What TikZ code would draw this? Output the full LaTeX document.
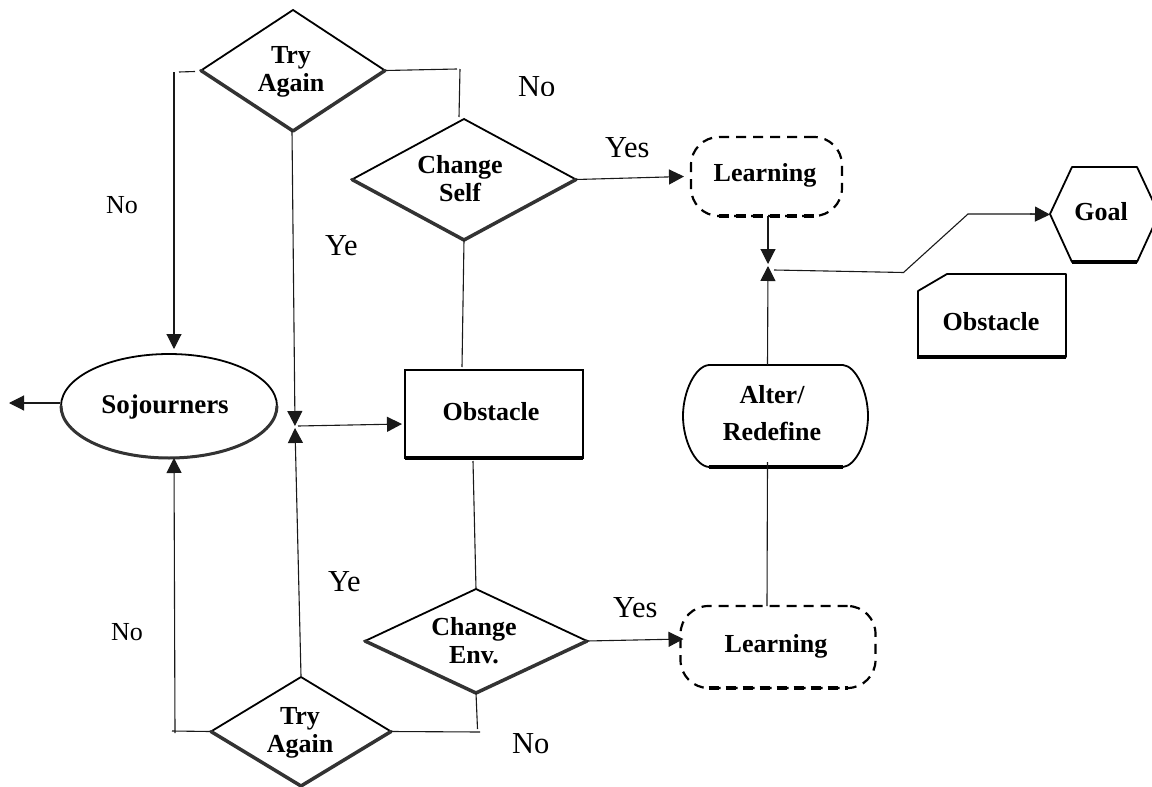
\documentclass[tikz,border=0pt]{standalone}
\usepackage{fontspec}
\setmainfont{Liberation Serif}
\usetikzlibrary{shapes.geometric,arrows.meta}
\tikzset{
  x=1pt,y=-1pt,
  conn/.style={line width=1.1pt,black!90},
  arr/.style={conn,-{Triangle[length=15pt,width=15pt,sep=0pt]}},
  lab/.style={font=\bfseries\fontsize{26}{28}\selectfont,align=center,inner sep=0pt},
  note/.style={font=\fontsize{30.5}{32}\selectfont,inner sep=0pt,anchor=base west},
  smallnote/.style={font=\fontsize{26}{28}\selectfont,inner sep=0pt,anchor=base west},
  dia/.style 2 args={diamond,draw,line width=1.8pt,inner sep=0pt,outer sep=0pt,minimum width=#1,minimum height=#2,aspect=1.6},
  shadeedge/.style={line width=3.5pt,black!80,line cap=round,line join=round},
  shapeframe/.style={draw,line width=1.8pt,line join=round},
  dashbox/.style={draw,dash pattern=on 10pt off 7pt,line width=2.2pt,rounded corners=28pt,inner sep=0pt,outer sep=0pt},
  plainbox/.style={inner sep=0pt,outer sep=0pt}
}
\begin{document}
\begin{tikzpicture}
\useasboundingbox (0,0) rectangle (1152,787);
% diamonds
\node[dia={184pt}{121pt}] (t1) at (293,70.5) {};
\draw[shadeedge] (t1.west) -- (t1.south) -- (t1.east);
\node[lab] (t1t) at (291,72) {Try\\Again};
\node[dia={224pt}{121pt}] (c1) at (464,179.5) {};
\draw[shadeedge] (c1.west) -- (c1.south) -- (c1.east);
\node[lab] (c1t) at (460,178.5) {Change\\Self};
\node[dia={222pt}{104pt}] (c2) at (476,641) {};
\draw[shadeedge] (c2.west) -- (c2.south) -- (c2.east);
\node[lab] (c2t) at (474,641) {Change\\Env.};
\node[dia={180pt}{109pt}] (t2) at (301,731.5) {};
\draw[shadeedge] (t2.west) -- (t2.south) -- (t2.east);
\node[lab] (t2t) at (300,733) {Try\\Again};
% ellipse
\node[ellipse,draw,line width=1.8pt,inner sep=0pt,outer sep=0pt,minimum width=216pt,minimum height=104pt] (soj) at (169,406) {};
\draw[shadeedge,line width=3pt] (soj.west) arc[start angle=180,end angle=360,x radius=108pt,y radius=52pt];
\node[lab,font=\bfseries\fontsize{27}{28}\selectfont] (sojt) at (165,407) {Sojourners};
% centre rectangle
\node[draw,line width=2.2pt,inner sep=0pt,outer sep=0pt,minimum width=178pt,minimum height=88pt] (ob) at (494,414) {};
\draw[line width=4pt] (ob.south west) -- (ob.south east);
\node[lab] (obt) at (491,412) {Obstacle};
% learning boxes
\node[dashbox,minimum width=151pt,minimum height=79pt] (l1) at (766.5,176.5) {};
\draw[line width=3.5pt,dash pattern=on 10pt off 7pt] ([xshift=28pt]l1.south west) -- ([xshift=-28pt]l1.south east);
\node[lab] (l1t) at (765,175) {Learning};
\node[dashbox,minimum width=195pt,minimum height=82pt] (l2) at (778,647) {};
\draw[line width=3.5pt,dash pattern=on 10pt off 7pt] ([xshift=28pt]l2.south west) -- ([xshift=-28pt]l2.south east);
\node[lab] (l2t) at (776,646) {Learning};
% alter
\node[plainbox,minimum width=185pt,minimum height=102pt] (alt) at (775.5,416) {};
\draw[shapeframe] (709,365) -- (843,365) .. controls (856,366) and (868,392) .. (868,416) .. controls (868,440) and (856,466) .. (843,467) -- (709,467) .. controls (695,466) and (683,440) .. (683,416) .. controls (683,392) and (695,366) .. (709,365) -- cycle;
\draw[line width=3.5pt] (709,467) -- (843,467);
\node[lab,font=\bfseries\fontsize{26}{37}\selectfont] (altt) at (772,413) {Alter/\\Redefine};
% goal
\node[plainbox,minimum width=109pt,minimum height=95pt] (goal) at (1104.5,214.5) {};
\draw[shapeframe] (1050,214) -- (1072,167) -- (1137,167) -- (1159,214) -- (1137,262) -- (1072,262) -- cycle;
\draw[line width=3.5pt] (1072,262) -- (1137,262);
\node[lab] (goalt) at (1101,212) {Goal};
% note obstacle
\node[plainbox,minimum width=148pt,minimum height=83pt] (nt) at (992,315.5) {};
\draw[shapeframe] (918,291) -- (947,274) -- (1066,274) -- (1066,357) -- (918,357) -- cycle;
\draw[line width=4pt] (917,357) -- (1066,357);
\node[lab] (ntt) at (991,322) {Obstacle};
% free ends and junction
\coordinate (a1) at (179,72);
\coordinate (a2) at (174,72);
\coordinate (b1) at (457,69);
\coordinate (b2) at (460,69);
\coordinate (j1) at (295,426);
\coordinate (j2) at (295,428);
\coordinate (j3) at (298,426);
\coordinate (k1) at (768,264);
\coordinate (k2) at (768,266);
\coordinate (k3) at (774,270);
\coordinate (k4) at (903.5,272.5);
\coordinate (k5) at (968,214);
\coordinate (d1) at (172,731);
\coordinate (d2) at (175,733);
\coordinate (e1) at (480,732);
\coordinate (e2) at (477.5,729);
% connectors
\draw[conn] ([xshift=-6pt,yshift=-1pt]t1.west) -- (a1);
\draw[arr] (a2) -- ([xshift=5pt,yshift=5pt]soj.north);
\draw[conn] ([xshift=1pt]t1.east) -- (b1);
\draw[conn] (b2) -- ([xshift=-5pt,yshift=2pt]c1.north);
\draw[arr] ([xshift=-1pt]t1.south) -- (j1);
\draw[arr] (j3) -- ([xshift=-3pt,yshift=-10pt]ob.west);
\draw[conn] (c1.south) -- ([xshift=-32pt,yshift=3pt]ob.north);
\draw[conn] ([xshift=-21pt,yshift=-3pt]ob.south) -- (c2.north);
\draw[arr] (c1.east) -- ([xshift=-7pt]l1.west);
\draw[arr] (c2.east) -- ([xshift=3pt,yshift=8pt]l2.west);
\draw[arr] ([xshift=1.5pt]l1.south) -- (k1);
\draw[arr] ([xshift=-8pt]alt.north) -- (k2);
\draw[conn] ([xshift=-8pt,yshift=5pt]alt.south) -- ([xshift=-11pt]l2.north);
\draw[conn] (k3) -- (k4) -- (k5) -- (1035,214);
\draw[arr] (1030,214) -- (goal.west);
\draw[arr] ([xshift=-1pt,yshift=3pt]soj.west) -- (9,403);
\draw[arr] ([yshift=1pt]t2.north) -- (j2);
\draw[conn] (d1) -- ([xshift=-1pt]t2.west);
\draw[arr] (d2) -- ([xshift=5pt]soj.south);
\draw[conn] (t2.east) -- (e1);
\draw[conn] (c2.south) -- (e2);
% labels
\begin{scope}
\clip (500,60) rectangle (600,95);
\node[note] (n1) at (518,96) {No};
\end{scope}
\node[note] (y1) at (605,157) {Yes};
\node[note] (y2) at (325,255) {Ye};
\node[smallnote] (n2) at (106,213) {No};
\node[note] (y3) at (328,591) {Ye};
\node[note] (y4) at (613,617) {Yes};
\node[smallnote] (n3) at (111,640) {No};
\node[note] (n4) at (512,753) {No};
\end{tikzpicture}
\end{document}
